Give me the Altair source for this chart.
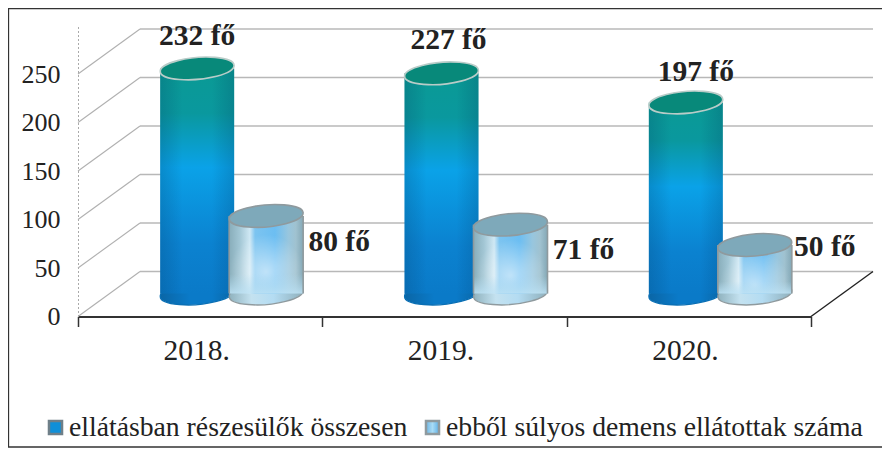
import altair as alt
import pandas as pd

years = ["2018.", "2019.", "2020."]
total = [232, 227, 197]
severe = [80, 71, 50]
ticks = [0, 50, 100, 150, 200, 250]
series = ["ellátásban részesülők összesen", "ebből súlyos demens ellátottak száma"]

FONT = "Liberation Serif"
W, H = 733, 291
DX, DY = 62, -45
BASE = -23
ELL = "M-0.996,0.087A1,0.29 -5 1,1 0.996,-0.087A1,0.29 -5 1,1 -0.996,0.087Z"
SIZE = 74 * 74

df = pd.DataFrame({"year": years, "total": total, "severe": severe})
df["tl"] = [f"{v} fő" for v in total]
df["sl"] = [f"{v} fő" for v in severe]
df["zero"] = 0
grid = pd.DataFrame({"v": ticks})

x_scale = alt.Scale(domain=years, paddingInner=0, paddingOuter=0)
y_scale = alt.Scale(domain=[0, 300], nice=False)
x_axis = alt.Axis(labelAngle=0, labelFont=FONT, labelFontSize=29.5, labelColor="#222", labelOffset=-4,
                  domainColor="#333", domainWidth=2, tickColor="#333", tickWidth=1.5,
                  tickSize=10, tickBand="extent", labelPadding=10, grid=False, title=None)
y_axis = alt.Axis(values=ticks, labelFont=FONT, labelFontSize=26, labelColor="#222",
                  domainColor="#aaa", domainDash=[2, 2], tickSize=0, labelPadding=18, grid=False, title=None)
X_ = alt.X("year:N", sort=years, scale=x_scale, axis=x_axis)


def Y_(f):
    return alt.Y(f"{f}:Q", scale=y_scale, axis=y_axis)


def grad_v(stops):
    return alt.Gradient(gradient="linear", x1=0, y1=0, x2=0, y2=1,
                        stops=[alt.GradientStop(offset=o, color=c) for o, c in stops])


def grad_h(stops):
    return alt.Gradient(gradient="linear", x1=0, y1=0, x2=1, y2=0,
                        stops=[alt.GradientStop(offset=o, color=c) for o, c in stops])


tall_v = grad_v([(0, "#0a9a94"), (0.2, "#0a989e"), (0.44, "#0aa2e8"), (0.78, "#0b82d0"), (1, "#0a7ac8")])
edge = grad_h([(0, "rgba(0,50,90,0.2)"), (0.3, "rgba(0,40,80,0)"), (0.7, "rgba(0,40,80,0)"), (1, "rgba(0,50,90,0.2)")])
tall_bottom = grad_h([(0, "#0a66a6"), (0.4, "#0a7ac8"), (0.7, "#0a7ac8"), (1, "#0a66a6")])
short_h = grad_h([(0, "#88adba"), (0.14, "#a2c6d4"), (0.28, "#cfe8f4"), (0.35, "#7cc4f0"), (0.62, "#6cbef2"),
                  (0.8, "#98c6de"), (0.9, "#a0c2d0"), (1, "#84a8b6")])
short_bottom = grad_h([(0, "#8fb2be"), (0.3, "#c4e2f0"), (0.6, "#b4dcf2"), (1, "#8fb0bc")])
short_glow = alt.Gradient(gradient="radial", x1=0.5, y1=0.72, r1=0, x2=0.5, y2=0.72, r2=0.48,
                          stops=[alt.GradientStop(offset=0, color="rgba(255,255,255,0.55)"),
                                 alt.GradientStop(offset=1, color="rgba(255,255,255,0)")])
short_fade = grad_v([(0, "rgba(180,220,240,0)"), (0.75, "rgba(180,220,240,0)"), (1, "rgba(190,226,244,0.85)")])
swatch_fill = grad_h([(0, "#6fb6e4"), (0.5, "#a8dcf6"), (1, "#5fb0e6")])

# walls and floor
grid_back = alt.Chart(grid).mark_rule(color="#b8b8b8", strokeWidth=1.3, yOffset=DY).encode(
    x=alt.value(DX), x2=alt.value(W + DX), y=Y_("v"))
grid_side = alt.Chart(grid).mark_rule(color="#b0b0b0", strokeWidth=1.1, y2Offset=DY).encode(
    x=alt.value(0), x2=alt.value(DX), y=Y_("v"), y2="v:Q")
floor_side = alt.Chart(grid[grid.v == 0]).mark_rule(color="#222", strokeWidth=1.4, y2Offset=DY).encode(
    x=alt.value(W), x2=alt.value(W + DX), y=Y_("v"), y2="v:Q")
axis_layer = alt.Chart(df).mark_point(opacity=0).encode(x=X_, y=Y_("zero"))


def cylinder(field, off, bottom_fill, bottom_stroke, body_fills, top_fill, top_stroke, side_stroke=None):
    base = alt.Chart(df).encode(x=X_)
    parts = [base.mark_point(shape=ELL, size=SIZE, filled=True, opacity=1, fill=bottom_fill,
                             stroke=bottom_stroke, strokeWidth=1.4, xOffset=off, yOffset=BASE).encode(y=Y_("zero"))]
    for fill in body_fills:
        parts.append(base.mark_bar(fill=fill, width=74, xOffset=off, yOffset=BASE, y2Offset=BASE)
                     .encode(y=Y_(field), y2=alt.Y2("zero:Q")))
    if side_stroke:
        for side in (-37, 37):
            parts.append(base.mark_rule(color=side_stroke, strokeWidth=1.6, xOffset=off + side, yOffset=BASE, y2Offset=BASE)
                         .encode(y=Y_(field), y2=alt.Y2("zero:Q")))
    parts.append(base.mark_point(shape=ELL, size=SIZE, filled=True, opacity=1, fill=top_fill, stroke=top_stroke,
                                 strokeWidth=1.6, xOffset=off, yOffset=BASE).encode(y=Y_(field)))
    return parts


tall_parts = cylinder("total", -3, tall_bottom, "#0a6fb4", [tall_v, edge], "#08897a", "#b9ccc8")
short_parts = cylinder("severe", 66, short_bottom, "#8f9a9e", [short_h, short_glow, short_fade], "#7ea9ba", "#8f9a9e", "#8f9a9e")

labels = []
for yr, dx, dy in [("2018.", -3, -32), ("2019.", 4, -33), ("2020.", 7, -30)]:
    labels.append(alt.Chart(df[df.year == yr]).mark_text(font=FONT, fontSize=29.5, fontWeight="bold", color="#222",
                                                         xOffset=dx, yOffset=BASE + dy).encode(x=X_, y=Y_("total"), text="tl:N"))
for yr, dx, dy in [("2018.", 139, 26), ("2019.", 139, 25), ("2020.", 136, 2)]:
    labels.append(alt.Chart(df[df.year == yr]).mark_text(font=FONT, fontSize=29.5, fontWeight="bold", color="#222",
                                                         xOffset=dx, yOffset=BASE + dy).encode(x=X_, y=Y_("severe"), text="sl:N"))

# legend and frame
legend = []
for name, sx, tx, fill, stroke in [(series[0], -22.5, -9, "#0f8fd8", "#6f7f88"), (series[1], 354.5, 368, swatch_fill, "#8f9a9e")]:
    item = alt.Chart(pd.DataFrame({"t": [name]}))
    legend.append(item.mark_square(size=170, fill=fill, stroke=stroke, strokeWidth=2.5, opacity=1)
                  .encode(x=alt.value(sx), y=alt.value(402)))
    legend.append(item.mark_text(font=FONT, fontSize=27.7, align="left", baseline="alphabetic", color="#222")
                  .encode(x=alt.value(tx), y=alt.value(410), text="t:N"))
frame = alt.Chart(pd.DataFrame({"t": ["frame"]})).mark_rect(fill="transparent", stroke="#333", strokeWidth=1.3).encode(
    x=alt.value(-69.5), x2=alt.value(830), y=alt.value(-17), y2=alt.value(421.5))

chart = alt.layer(frame, grid_back, grid_side, floor_side, axis_layer, *tall_parts, *short_parts, *labels, *legend).properties(
    width=W, height=H,
    padding={"left": 70, "top": 17.5, "right": 71, "bottom": 131},
    autosize=alt.AutoSizeParams(type="none"),
    background="#ffffff",
).configure_view(stroke=None)

chart.save("out.html", embed_options={"renderer": "svg", "actions": False})
